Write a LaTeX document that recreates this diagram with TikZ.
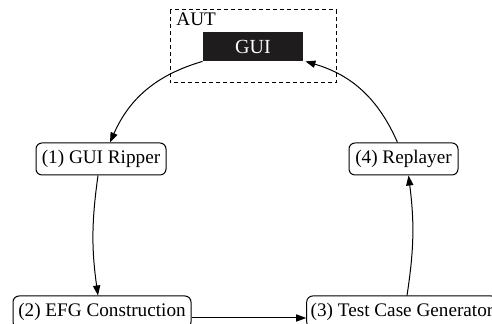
\documentclass[tikz,border=0pt]{standalone}
\usepackage{fontspec}
\setmainfont{Liberation Serif}
\newfontfamily\timesfont{Liberation Serif}
\usetikzlibrary{arrows.meta, positioning}
\definecolor{guiblack}{RGB}{30, 28, 28}

\tikzset{
  stage/.style={draw, rounded corners=3pt, line width=0.5pt, minimum height=16pt, inner sep=2pt, font=\timesfont\fontsize{9.6}{11}\selectfont},
  flow/.style={-{Triangle[length=5pt, width=3.6pt]}, line width=0.5pt}
}

\begin{document}
\begin{tikzpicture}[x=0.5pt, y=0.5pt]
  \useasboundingbox (0, 0) rectangle (492, 324);

  % Application under test
  \draw[dashed, dash pattern=on 2pt off 1.5pt, line width=0.5pt] (170, 314) rectangle (336, 241);
  \node[anchor=base west, inner sep=0pt, font=\timesfont\fontsize{9.6}{11}\selectfont] (aut) at (176, 298) {AUT};
  \node[fill=guiblack, text=white, minimum width=50pt, minimum height=14.5pt, inner sep=0pt, font=\timesfont\fontsize{10}{12}\selectfont] (gui) at (253, 277.5) {GUI};

  % Stages of the cycle
  \node[stage, minimum width=65pt] (ripper) at (101, 165) {(1) GUI Ripper};
  \node[stage, minimum width=54.5pt] (replayer) at (403.5, 165) {(4) Replayer};
  \node[stage, minimum width=89pt] (efg) at (102, 12) {(2) EFG Construction};
  \node[stage, minimum width=95pt] (tcg) at (402, 12) {(3) Test Case Generator};

  % Cycle
  \draw[flow] (gui.south west) to[bend right=25] ([xshift=4.5pt]ripper.north);
  \draw[flow] ([xshift=-1.5pt]ripper.south) to[bend right=8] ([xshift=-2pt]efg.north);
  \draw[flow] ([yshift=-3pt]efg.east) -- ([yshift=-3pt]tcg.west);
  \draw[flow] ([xshift=2.5pt]tcg.north) to[bend right=8] ([xshift=2.5pt]replayer.south);
  \draw[flow] ([xshift=-3pt]replayer.north) to[bend right=25] ([xshift=1pt]gui.south east);
\end{tikzpicture}
\end{document}
